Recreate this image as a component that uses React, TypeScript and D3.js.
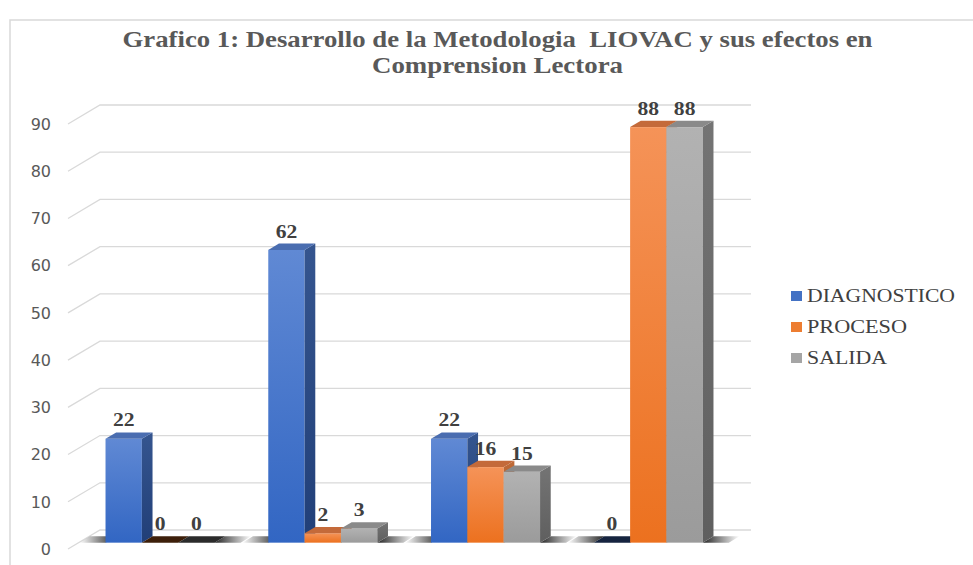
import React, {useEffect, useRef} from "react"
import * as d3 from "d3"

const categories = ["1", "2", "3", "4"]
const seriesNames = ["DIAGNOSTICO", "PROCESO", "SALIDA"]
const diagnostico = [22, 62, 22, 0]
const proceso = [0, 2, 16, 88]
const salida = [0, 3, 15, 88]
const yTicks = [0, 10, 20, 30, 40, 50, 60, 70, 80, 90]

const titleLines = [
    "Grafico 1: Desarrollo de la Metodologia  LIOVAC y sus efectos en",
    "Comprension Lectora",
]
// the source picture is stretched sideways, so text widths are fixed
const titleWidths = [750, 251]
const legendWidths = [148, 100, 80]

// face colours per series: front gradient top/bottom, side, top, top when value is 0
const faceColors = [
    {front: ["#6089d4", "#3266c3"], side: ["#35558f", "#213f78"], top: "#4a6db0", flat: "#16243f", legend: "#4472c4"},
    {front: ["#f59358", "#ec711f"], side: ["#bf6a38", "#a8551d"], top: "#c46a3a", flat: "#3d1f0a", legend: "#ed7d31"},
    {front: ["#b2b2b2", "#9b9b9b"], side: ["#747474", "#5f5f5f"], top: "#8a8a8a", flat: "#2b2b2b", legend: "#a5a5a5"},
]

const App = () => {
    const ref = useRef(null)

    const svgWidth = 973
    const svgHeight = 565
    const depthX = 32
    const depthY = -19
    const barDX = depthX / 3
    const barDY = depthY / 3

    useEffect(() => {
        const svg = d3.select(ref.current)
        svg.selectAll("*").remove()

        const values = [diagnostico, proceso, salida]

        const x0 = d3.scaleBand()
            .domain(categories)
            .range([68, 719])
            .paddingInner(0.33)
            .paddingOuter(0.165)
        const x1 = d3.scaleBand()
            .domain(seriesNames)
            .range([0, x0.bandwidth()])
        const y = d3.scaleLinear()
            .domain([0, 90])
            .range([549, 124])

        const defs = svg.append("defs")
        faceColors.forEach((c, i) => {
            const fg = defs.append("linearGradient").attr("id", `front${i}`)
                .attr("x1", 0).attr("y1", 0).attr("x2", 0).attr("y2", 1)
            fg.append("stop").attr("offset", "0%").attr("stop-color", c.front[0])
            fg.append("stop").attr("offset", "100%").attr("stop-color", c.front[1])
            const sg = defs.append("linearGradient").attr("id", `side${i}`)
                .attr("x1", 0).attr("y1", 0).attr("x2", 0).attr("y2", 1)
            sg.append("stop").attr("offset", "0%").attr("stop-color", c.side[0])
            sg.append("stop").attr("offset", "100%").attr("stop-color", c.side[1])
        })
        const shL = defs.append("linearGradient").attr("id", "shadowL")
        shL.append("stop").attr("offset", "0%").attr("stop-color", "#1a1a1a").attr("stop-opacity", 0)
        shL.append("stop").attr("offset", "100%").attr("stop-color", "#1a1a1a").attr("stop-opacity", 0.95)
        const shR = defs.append("linearGradient").attr("id", "shadowR")
        shR.append("stop").attr("offset", "0%").attr("stop-color", "#1a1a1a").attr("stop-opacity", 0.95)
        shR.append("stop").attr("offset", "100%").attr("stop-color", "#1a1a1a").attr("stop-opacity", 0)

        // chart frame
        svg.append("path")
            .attr("d", `M10,${svgHeight + 5} L10,20 L${svgWidth + 5},20`)
            .attr("fill", "none")
            .attr("stroke", "#d9d9d9")
            .attr("stroke-width", 1.5)

        // title
        svg.append("g").selectAll("text")
            .data(titleLines)
            .join("text")
            .attr("x", 497.5)
            .attr("y", (d, i) => 47 + i * 25.5)
            .attr("text-anchor", "middle")
            .attr("xml:space", "preserve")
            .attr("textLength", (d, i) => titleWidths[i])
            .attr("lengthAdjust", "spacingAndGlyphs")
            .attr("font-family", "'Liberation Serif', 'Times New Roman', serif")
            .attr("font-weight", "bold")
            .attr("font-size", 22.5)
            .attr("fill", "#595959")
            .text(d => d)

        // gridlines on back wall + side diagonals
        const xFront = x0.range()[0]
        const xBack = x0.range()[1] + depthX
        svg.append("g").selectAll("path")
            .data(yTicks)
            .join("path")
            .attr("d", t => `M${xFront},${y(t)} L${xFront + depthX},${y(t) + depthY} L${xBack},${y(t) + depthY}`)
            .attr("fill", "none")
            .attr("stroke", "#d9d9d9")
            .attr("stroke-width", 1.3)

        // y labels
        svg.append("g").selectAll("text")
            .data(yTicks)
            .join("text")
            .attr("x", 51)
            .attr("y", t => y(t))
            .attr("dy", "0.36em")
            .attr("text-anchor", "end")
            .attr("font-family", "'DejaVu Sans', sans-serif")
            .attr("font-size", 16)
            .attr("fill", "#595959")
            .text(t => t)

        // floor shadows around each group
        const yb = y(0) + barDY
        const shadowW = 26
        const shadows = svg.append("g")
        categories.forEach(cat => {
            const gx = (x0(cat) as number) + barDX
            const ge = gx + x0.bandwidth() + barDX
            shadows.append("path")
                .attr("d", `M${gx - shadowW},${yb} L${gx},${yb} L${gx + barDX},${yb + barDY} L${gx - shadowW + barDX},${yb + barDY}Z`)
                .attr("fill", "url(#shadowL)")
            shadows.append("path")
                .attr("d", `M${ge - barDX},${yb} L${ge + shadowW - barDX},${yb} L${ge + shadowW},${yb + barDY} L${ge},${yb + barDY}Z`)
                .attr("fill", "url(#shadowR)")
        })

        // bars
        const bars = svg.append("g")
        const labels: Array<{x: number, y: number, v: number}> = []
        categories.forEach((cat, ci) => {
            seriesNames.forEach((s, si) => {
                const v = values[si][ci]
                const bw = x1.bandwidth()
                const bx = (x0(cat) as number) + (x1(s) as number) + barDX
                const yTop = y(v) + barDY
                const yBase = y(0) + barDY
                const c = faceColors[si]
                if (v > 0) {
                    bars.append("rect")
                        .attr("x", bx).attr("y", yTop)
                        .attr("width", bw).attr("height", yBase - yTop)
                        .attr("fill", `url(#front${si})`)
                    bars.append("path")
                        .attr("d", `M${bx + bw},${yTop} L${bx + bw + barDX},${yTop + barDY} L${bx + bw + barDX},${yBase + barDY} L${bx + bw},${yBase}Z`)
                        .attr("fill", `url(#side${si})`)
                }
                bars.append("path")
                    .attr("d", `M${bx},${yTop} L${bx + bw},${yTop} L${bx + bw + barDX},${yTop + barDY} L${bx + barDX},${yTop + barDY}Z`)
                    .attr("fill", v > 0 ? c.top : c.flat)
                labels.push({x: bx + bw / 2, y: yTop + barDY - 6, v})
            })
        })

        // data labels
        svg.append("g").selectAll("text")
            .data(labels)
            .join("text")
            .attr("x", d => d.x)
            .attr("y", d => d.y)
            .attr("text-anchor", "middle")
            .attr("textLength", d => String(d.v).length * 10.8)
            .attr("lengthAdjust", "spacingAndGlyphs")
            .attr("font-family", "'Liberation Serif', 'Times New Roman', serif")
            .attr("font-weight", "bold")
            .attr("font-size", 19)
            .attr("fill", "#404040")
            .text(d => d.v)

        // legend
        const legend = svg.append("g").selectAll("g")
            .data(seriesNames)
            .join("g")
            .attr("transform", (d, i) => `translate(791,${296 + i * 31})`)
        legend.append("rect")
            .attr("x", 0).attr("y", -5)
            .attr("width", 11).attr("height", 10)
            .attr("fill", (d, i) => faceColors[i].legend)
        legend.append("text")
            .attr("x", 16)
            .attr("y", 0)
            .attr("dy", "0.33em")
            .attr("textLength", (d, i) => legendWidths[i])
            .attr("lengthAdjust", "spacingAndGlyphs")
            .attr("font-family", "'Liberation Serif', 'Times New Roman', serif")
            .attr("font-size", 18)
            .attr("fill", "#404040")
            .text(d => d)
    })

    return (
        <svg
            width={svgWidth}
            height={svgHeight}
            viewBox={`0 0 ${svgWidth} ${svgHeight}`}
            style={{position: "absolute", left: 0, top: 0, background: "#fff"}}
            ref={ref}
        />
    )
}

export default App
